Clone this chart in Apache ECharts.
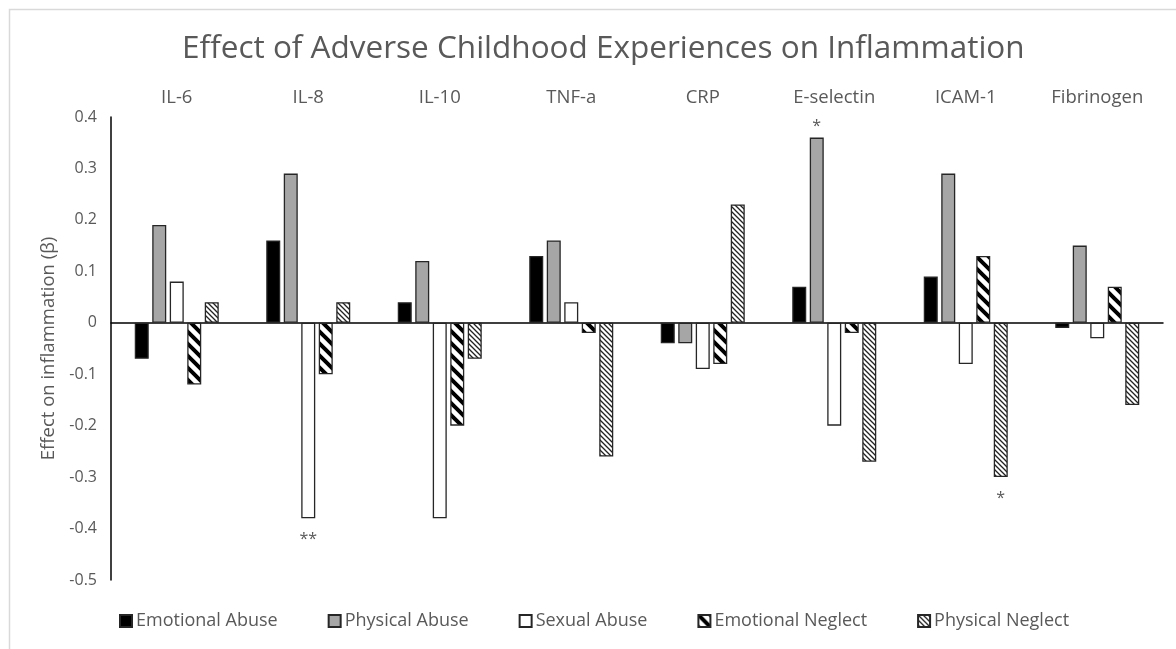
<!DOCTYPE html>
<html><head><meta charset="utf-8">
<script src="https://cdn.jsdelivr.net/npm/echarts@6/dist/echarts.min.js"></script>
<style>html,body{margin:0;padding:0;background:#fff}#c{width:1176px;height:649px}</style>
</head><body><div id="c"></div>
<script>
const categories = ['IL-6','IL-8','IL-10','TNF-a','CRP','E-selectin','ICAM-1','Fibrinogen'];
const seriesNames = ['Emotional Abuse','Physical Abuse','Sexual Abuse','Emotional Neglect','Physical Neglect'];
const emotionalAbuse   = [-0.07, 0.16, 0.04, 0.13, -0.04, 0.07, 0.09, -0.01];
const physicalAbuse    = [0.19, 0.29, 0.12, 0.16, -0.04, 0.36, 0.29, 0.15];
const sexualAbuse      = [0.08, -0.38, -0.38, 0.04, -0.09, -0.20, -0.08, -0.03];
const emotionalNeglect = [-0.12, -0.10, -0.20, -0.02, -0.08, -0.02, 0.13, 0.07];
const physicalNeglect  = [0.04, 0.04, -0.07, -0.26, 0.23, -0.27, -0.30, -0.16];
const yMin = -0.5, yMax = 0.4, yStep = 0.1;
// significance marks: [series index, category index, text]
const significance = [[2, 1, '**'], [1, 5, '*'], [4, 6, '*']];

const allValues = [emotionalAbuse, physicalAbuse, sexualAbuse, emotionalNeglect, physicalNeglect];
const FONT = 'Open Sans';
const GRAY = '#595959';

function stripe(size, lw, color) {
  const c = document.createElement('canvas');
  c.width = size; c.height = size;
  const g = c.getContext('2d');
  g.fillStyle = '#fff'; g.fillRect(0, 0, size, size);
  g.strokeStyle = color; g.lineWidth = lw;
  g.beginPath();
  for (let k = -2; k <= 2; k++) {
    g.moveTo(k * size - size, -size);
    g.lineTo(k * size + 2 * size, 2 * size);
  }
  g.stroke();
  return c;
}

const fills = [
  '#000000',
  '#a6a6a6',
  '#ffffff',
  { image: stripe(12, 4, '#000'), repeat: 'repeat' },
  { image: stripe(5, 1.3, '#222'), repeat: 'repeat' }
];

const series = allValues.map((vals, si) => ({
  name: seriesNames[si],
  type: 'bar',
  xAxisIndex: 0,
  barWidth: 14,
  barGap: '25%',
  itemStyle: { color: fills[si], borderColor: '#262626', borderWidth: 1.3 },
  emphasis: { disabled: true },
  data: vals.map((v, ci) => {
    const mark = significance.find(m => m[0] === si && m[1] === ci);
    if (!mark) return v;
    return {
      value: v,
      label: {
        show: true, position: v < 0 ? 'bottom' : 'top', distance: v < 0 ? 13 : 3,
        formatter: mark[2], color: GRAY, fontSize: 16, fontFamily: FONT
      }
    };
  })
}));

const chart = echarts.init(document.getElementById('c'), null, { renderer: 'canvas' });
chart.setOption({
  animation: false,
  backgroundColor: '#fff',
  textStyle: { fontFamily: FONT },
  title: {
    text: 'Effect of Adverse Childhood Experiences on Inflammation',
    left: 177, top: 28,
    textStyle: { color: GRAY, fontSize: 31.5, fontWeight: 'normal', fontFamily: FONT }
  },
  legend: {
    data: seriesNames, left: 119, top: 612, padding: 0,
    icon: 'rect', itemWidth: 12, itemHeight: 12, itemGap: 50,
    textStyle: { color: GRAY, fontSize: 18, fontFamily: FONT, padding: [0, 0, 0, -1] }
  },
  grid: { left: 111, right: 13, top: 117, bottom: 69 },
  xAxis: [
    {
      type: 'category', data: categories, position: 'top',
      axisLine: { show: false, onZero: false }, axisTick: { show: false },
      axisLabel: { color: GRAY, fontSize: 18.5, fontFamily: FONT, margin: 10 }
    },
    {
      type: 'category', data: categories, position: 'bottom',
      axisLine: { show: true, onZero: true, lineStyle: { color: '#000', width: 1.5 } },
      axisTick: { show: false }, axisLabel: { show: false }
    }
  ],
  yAxis: {
    type: 'value', min: yMin, max: yMax, interval: yStep,
    name: 'Effect on inflammation (β)', nameLocation: 'middle', nameGap: 53,
    nameTextStyle: { color: GRAY, fontSize: 18.5, fontFamily: FONT },
    axisLine: { show: true, lineStyle: { color: '#000', width: 1.5 } },
    axisTick: { show: false }, splitLine: { show: false },
    axisLabel: { color: GRAY, fontSize: 16, fontFamily: FONT, margin: 14,
      formatter: v => String(Math.round(v * 10) / 10) }
  },
  graphic: [{
    type: 'rect', silent: true, z: -1,
    shape: { x: 9.5, y: 9.5, width: 1400, height: 1000 },
    style: { fill: 'none', stroke: '#d9d9d9', lineWidth: 1.5 }
  }],
  series: series
});
</script>
</body></html>
